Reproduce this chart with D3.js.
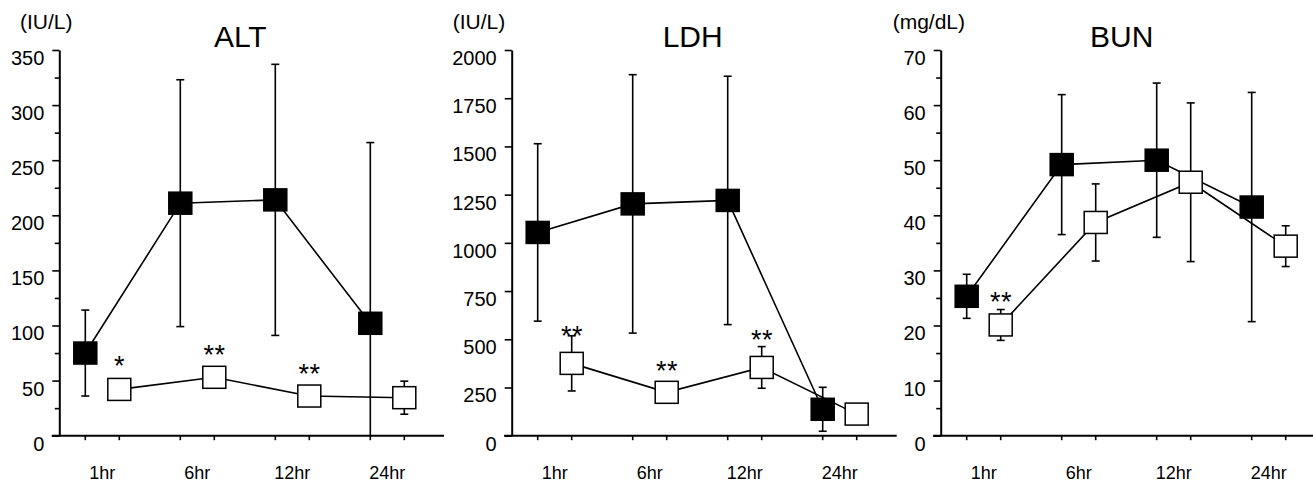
<!DOCTYPE html>
<html>
<head>
<meta charset="utf-8">
<script src="https://cdn.jsdelivr.net/npm/d3@7"></script>
<style>
  html, body { margin: 0; padding: 0; background: #fff; }
  svg { display: block; }
  text { font-family: "Liberation Sans", Arial, Helvetica, sans-serif; fill: #000; }
</style>
</head>
<body>
<svg id="chart" width="1313" height="483"></svg>
<script>
// ---------------- DATA ----------------
const categories = ["1hr", "6hr", "12hr", "24hr"];
const groups = ["control", "treated"];

// ALT (IU/L)
const altControl   = [75, 211, 214, 102];
const altControlSD = [39, 112, 123, 164];
const altTreated   = [42, 53, 36, 34.5];
const altTreatedSD = [8, 9, 7, 15];
const altSig       = ["*", "**", "**", ""];
const altSigLevel  = [69, 79, 61, null];
const altTicks     = [0, 50, 100, 150, 200, 250, 300, 350];
const altMinor     = [25, 75, 125, 175, 225, 275, 325];

// LDH (IU/L)
const ldhControl   = [1054, 1202, 1220, 137];
const ldhControlSD = [460, 670, 644, 114];
const ldhTreated   = [375, 225, 354, 112];
const ldhTreatedSD = [143, 40, 108, 30];
const ldhSig       = ["**", "**", "**", ""];
const ldhSigLevel  = [548, 367, 526, null];
const ldhTicks     = [0, 250, 500, 750, 1000, 1250, 1500, 1750, 2000];
const ldhMinor     = [];

// BUN (mg/dL)
const bunControl   = [25.3, 49.2, 50.0, 41.5];
const bunControlSD = [4, 12.7, 14, 20.8];
const bunTreated   = [20.1, 38.7, 46, 34.4];
const bunTreatedSD = [2.8, 7, 14.4, 3.7];
const bunSig       = ["**", "", "", ""];
const bunSigLevel  = [25.4, null, null, null];
const bunTicks     = [0, 10, 20, 30, 40, 50, 60, 70];
const bunMinor     = [5, 15, 25, 35, 45, 55, 65];

const titles = ["ALT", "LDH", "BUN"];
const units  = ["(IU/L)", "(IU/L)", "(mg/dL)"];

// ---------------- LAYOUT ----------------
const panels = [
  { title: titles[0], unit: units[0], ax: 59.3, unitX: 20, xEnd: 444,
    ctrl: altControl, ctrlSD: altControlSD, trt: altTreated, trtSD: altTreatedSD,
    sig: altSig, sigLevel: altSigLevel, ticks: altTicks, minor: altMinor },
  { title: titles[1], unit: units[1], ax: 511.7, unitX: 452.7, xEnd: 896.7,
    ctrl: ldhControl, ctrlSD: ldhControlSD, trt: ldhTreated, trtSD: ldhTreatedSD,
    sig: ldhSig, sigLevel: ldhSigLevel, ticks: ldhTicks, minor: ldhMinor },
  { title: titles[2], unit: units[2], ax: 940.7, unitX: 892.7, xEnd: 1313,
    ctrl: bunControl, ctrlSD: bunControlSD, trt: bunTreated, trtSD: bunTreatedSD,
    sig: bunSig, sigLevel: bunSigLevel, ticks: bunTicks, minor: bunMinor }
];

const yTop = 50, yBottom = 435.7;
const mW = 23, mH = 22, capW = 8;

const svg = d3.select("#chart");
svg.append("rect").attr("width", 1313).attr("height", 483).attr("fill", "#fff");

panels.forEach(p => {
  const g = svg.append("g");
  const yMax = p.ticks[p.ticks.length - 1];
  const y = d3.scaleLinear().domain([0, yMax]).range([yBottom, yTop]);
  const xCat = d3.scalePoint().domain(categories).range([p.ax + 26, p.ax + 311]);
  const xGrp = d3.scalePoint().domain(groups).range([0, 34]);
  const xPos = (c, grp) => xCat(c) + xGrp(grp);

  // Y axis
  const yAxis = d3.axisLeft(y).tickValues(p.ticks).tickSize(7).tickPadding(8).tickSizeOuter(0)
    .tickFormat(d3.format("d"));
  const ya = g.append("g").attr("transform", `translate(${p.ax},0)`).call(yAxis);
  ya.select(".domain").attr("stroke", "#000").attr("stroke-width", 2);
  ya.selectAll(".tick line").attr("stroke", "#000").attr("stroke-width", 1.6);
  ya.selectAll(".tick text").attr("dy", "0.72em")
    .style("font-size", "20px").style("font-family", "'Liberation Sans', Arial, sans-serif");

  if (p.minor.length) {
    const ym = g.append("g").attr("transform", `translate(${p.ax},0)`)
      .call(d3.axisLeft(y).tickValues(p.minor).tickSize(4.5).tickFormat("").tickSizeOuter(0));
    ym.select(".domain").remove();
    ym.selectAll(".tick line").attr("stroke", "#000").attr("stroke-width", 1.6);
  }

  // X axis line
  g.append("line").attr("x1", p.ax - 7.6).attr("x2", p.xEnd)
    .attr("y1", y(0)).attr("y2", y(0)).attr("stroke", "#000").attr("stroke-width", 2);
  // X ticks at each group position
  const tickPts = [];
  categories.forEach(c => groups.forEach(gr => tickPts.push(xPos(c, gr))));
  g.selectAll(".xt").data(tickPts).join("line")
    .attr("x1", d => d).attr("x2", d => d)
    .attr("y1", y(0)).attr("y2", y(0) + 4.5)
    .attr("stroke", "#000").attr("stroke-width", 1.6);
  // Category labels
  g.selectAll(".xl").data(categories).join("text")
    .attr("x", c => xCat(c) + xGrp.range()[1] / 2)
    .attr("y", 478.5)
    .attr("text-anchor", "middle")
    .style("font-size", "18px")
    .text(c => c);

  // Titles
  g.append("text").attr("x", p.ax + 181).attr("y", 46.7).attr("text-anchor", "middle")
    .style("font-size", "30px").text(p.title);
  g.append("text").attr("x", p.unitX).attr("y", 29).attr("text-anchor", "start")
    .style("font-size", "21px").text(p.unit);

  const series = [
    { key: "control", vals: p.ctrl, sd: p.ctrlSD, fill: "#000" },
    { key: "treated", vals: p.trt, sd: p.trtSD, fill: "#fff" }
  ];

  const line = d3.line().x(d => d.x).y(d => d.y);
  // Lines
  series.forEach(s => {
    const pts = categories.map((c, i) => ({ x: xPos(c, s.key), y: y(s.vals[i]) }));
    g.append("path").attr("d", line(pts)).attr("fill", "none")
      .attr("stroke", "#000").attr("stroke-width", 1.6);
  });

  // Error bars
  series.forEach(s => {
    categories.forEach((c, i) => {
      const x = xPos(c, s.key);
      const hi = s.vals[i] + s.sd[i];
      const loRaw = s.vals[i] - s.sd[i];
      const lo = Math.max(0, loRaw);
      g.append("line").attr("x1", x).attr("x2", x).attr("y1", y(hi)).attr("y2", y(lo))
        .attr("stroke", "#000").attr("stroke-width", 1.6);
      g.append("line").attr("x1", x - capW / 2).attr("x2", x + capW / 2)
        .attr("y1", y(hi)).attr("y2", y(hi)).attr("stroke", "#000").attr("stroke-width", 1.6);
      if (loRaw >= 0) {
        g.append("line").attr("x1", x - capW / 2).attr("x2", x + capW / 2)
          .attr("y1", y(lo)).attr("y2", y(lo)).attr("stroke", "#000").attr("stroke-width", 1.6);
      }
    });
  });

  // Markers
  series.forEach(s => {
    g.selectAll(".m-" + s.key).data(categories).join("rect")
      .attr("x", c => xPos(c, s.key) - mW / 2)
      .attr("y", (c, i) => y(s.vals[i]) - mH / 2)
      .attr("width", mW).attr("height", mH)
      .attr("fill", s.fill).attr("stroke", "#000").attr("stroke-width", 1.5);
  });

  // Significance asterisks
  categories.forEach((c, i) => {
    if (!p.sig[i]) return;
    const t = g.append("text").attr("x", xPos(c, "treated")).attr("y", y(p.sigLevel[i]) + 15)
      .attr("text-anchor", "middle").style("font-size", "27px");
    const chars = p.sig[i].split("");
    const gap = 11;
    chars.forEach((ch, k) => {
      t.append("tspan")
        .attr("x", xPos(c, "treated") + (k - (chars.length - 1) / 2) * gap)
        .text(ch);
    });
  });
});
</script>
</body>
</html>
